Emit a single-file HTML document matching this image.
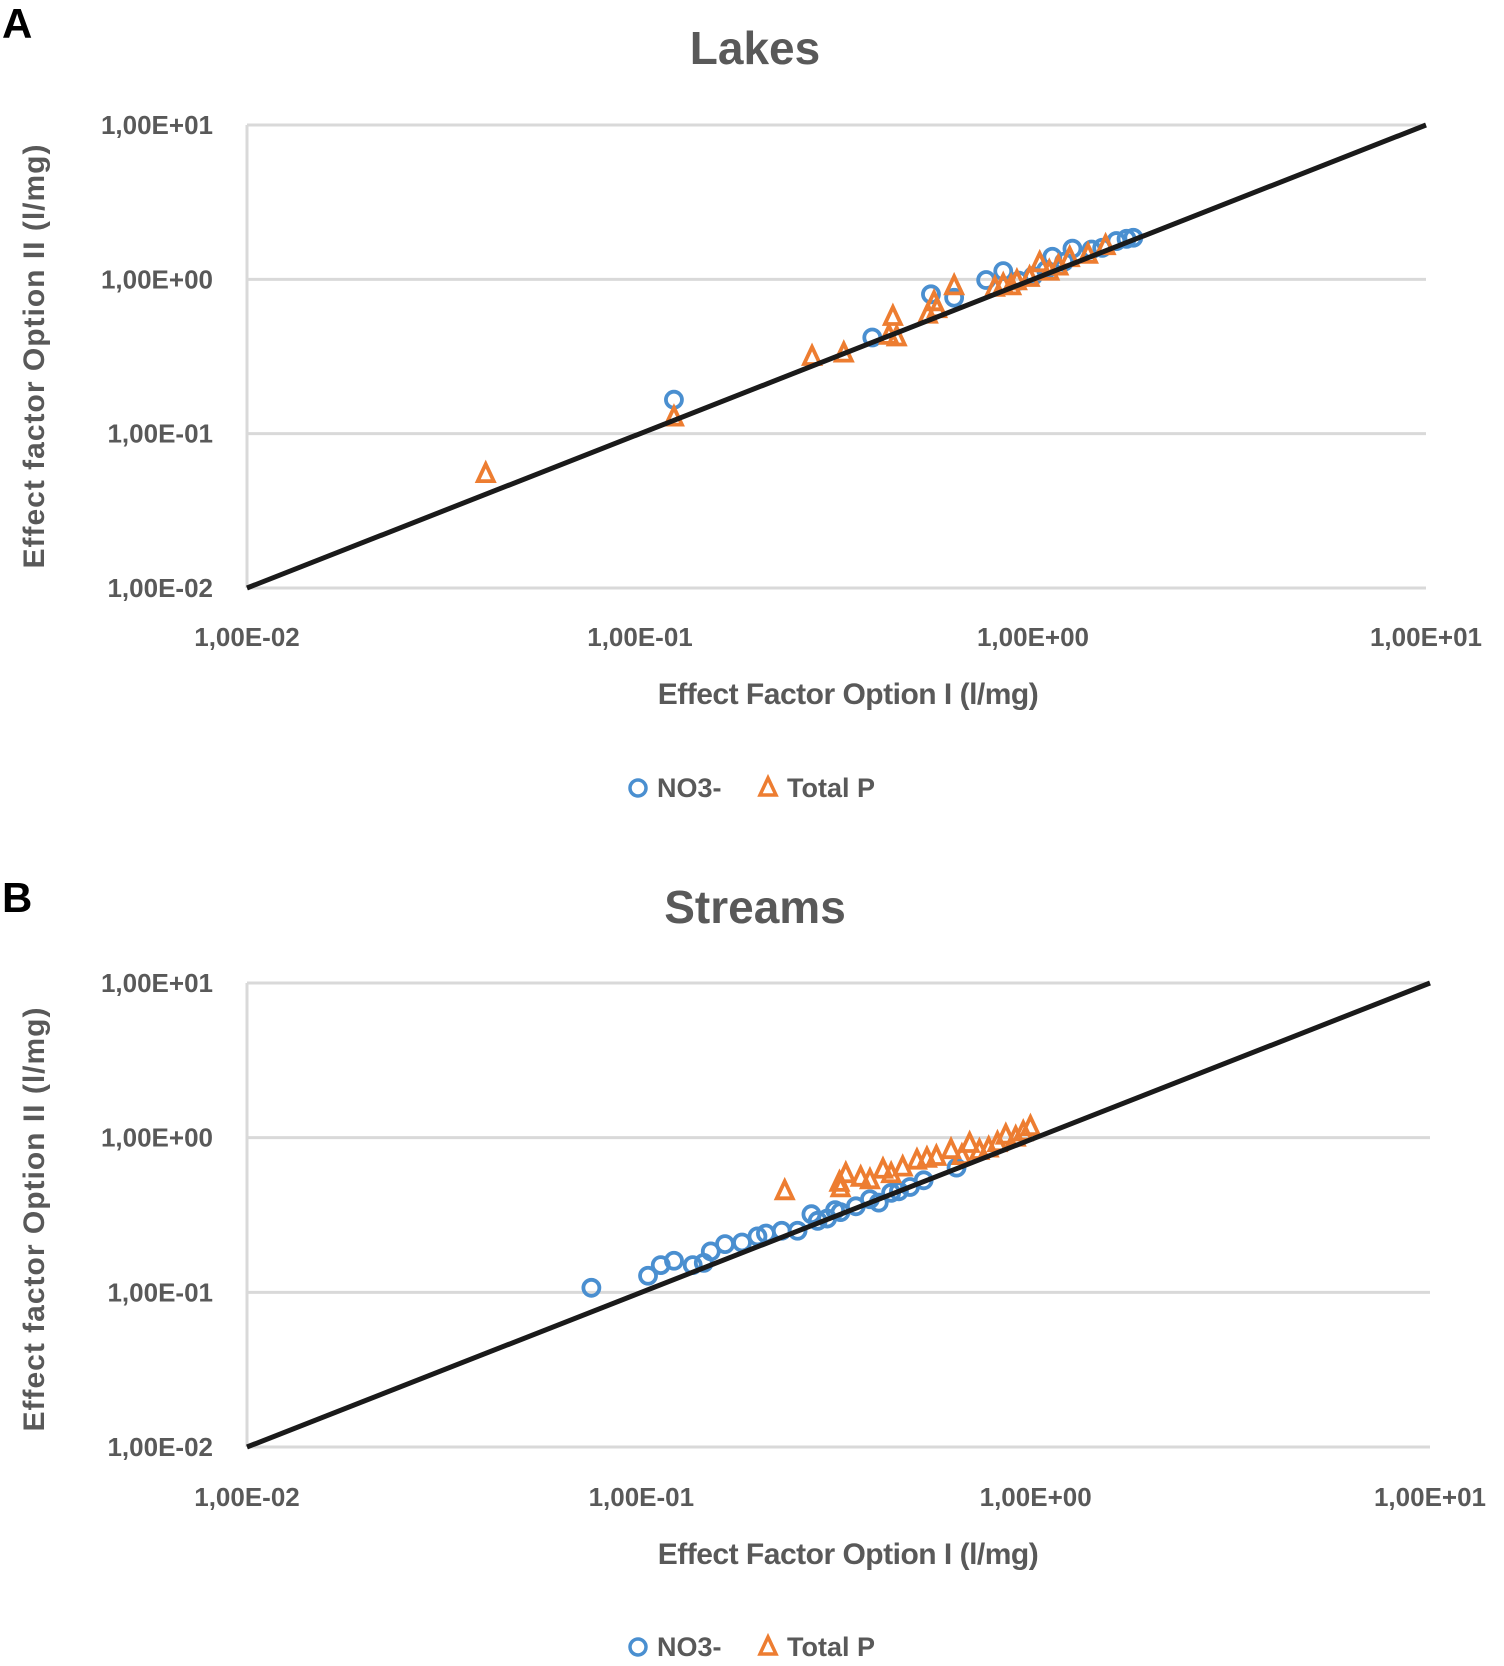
<!DOCTYPE html>
<html><head><meta charset="utf-8">
<style>
html,body{margin:0;padding:0;background:#fff;}
svg{display:block;font-family:"Liberation Sans",sans-serif;}
.tick{fill:#595959;font-size:26px;font-weight:bold;}
.axt{fill:#595959;font-size:30px;font-weight:bold;}
.ttl{fill:#595959;font-size:46px;font-weight:bold;}
.pl{fill:#000;font-size:42px;font-weight:bold;}
.leg{fill:#595959;font-size:27px;font-weight:bold;}
</style></head>
<body>
<svg id="chart" width="1504" height="1666" viewBox="0 0 1504 1666" xmlns="http://www.w3.org/2000/svg"></svg>
<script>
const ticks = [0.01, 0.1, 1, 10];
const tickLabels = ["1,00E-02", "1,00E-01", "1,00E+00", "1,00E+01"];
const lakesNO3X = [0.122,0.55,0.39,0.76,0.84,1.12,1.26,1.41,1.63,1.73,1.80,0.63,0.92,1.0,1.08,1.2,1.5];
const lakesNO3Y = [0.166,0.80,0.42,0.99,1.13,1.4,1.58,1.56,1.77,1.83,1.86,0.76,0.98,1.05,1.15,1.3,1.6];
const lakesPX = [0.0405,0.122,0.274,0.33,0.44,0.43,0.54,0.56,0.63,0.84,0.91,1.04,1.16,1.24,1.38,1.53,0.8,0.88,0.98,1.1,0.45,0.57];
const lakesPY = [0.0547,0.127,0.314,0.33,0.57,0.43,0.59,0.71,0.90,0.92,0.97,1.27,1.21,1.37,1.44,1.64,0.88,0.9,1.02,1.12,0.42,0.64];
const streamsNO3X = [0.0747,0.104,0.112,0.121,0.135,0.144,0.15,0.163,0.18,0.197,0.207,0.227,0.249,0.27,0.296,0.32,0.35,0.38,0.43,0.48,0.52,0.63,0.28,0.31,0.4,0.45];
const streamsNO3Y = [0.107,0.128,0.15,0.16,0.15,0.155,0.184,0.205,0.21,0.23,0.24,0.25,0.25,0.32,0.30,0.33,0.36,0.40,0.44,0.48,0.53,0.64,0.29,0.34,0.38,0.45];
const streamsPX = [0.231,0.318,0.33,0.38,0.41,0.46,0.50,0.56,0.61,0.68,0.76,0.84,0.89,0.97,0.32,0.53,0.36,0.43,0.65,0.72,0.8,0.93];
const streamsPY = [0.45,0.51,0.58,0.53,0.62,0.64,0.71,0.75,0.83,0.91,0.85,1.03,1.0,1.17,0.47,0.73,0.55,0.58,0.76,0.82,0.92,1.08];

const NS="http://www.w3.org/2000/svg";
const svg=document.getElementById('chart');
function mk(tag,attrs,parent){const e=document.createElementNS(NS,tag);for(const k in attrs)e.setAttribute(k,attrs[k]);(parent||svg).appendChild(e);return e;}

function panel(cfg, nx, ny, px, py){
  const g=mk('g',{});
  
  
  const sx=v=>cfg.x0+(Math.log10(v)+2)/3*(cfg.x1-cfg.x0);
  const sy=v=>cfg.y1-(Math.log10(v)+2)/3*(cfg.y1-cfg.y0);
  const lbl=mk('text',{x:2,y:cfg.letterY,class:'pl'},g);lbl.textContent=cfg.letter;
  
  
  const t=mk('text',{x:755,y:cfg.titleY,class:'ttl','text-anchor':'middle'},g);t.textContent=cfg.title;
  
  
  ticks.forEach((v,i)=>{
    const y=sy(v);
    const gl=mk('line',{x1:cfg.x0,x2:cfg.x1,y1:y,y2:y,stroke:'#d9d9d9','stroke-width':3},g);
    
    
    const yl=mk('text',{x:213,y:y+9,class:'tick','text-anchor':'end'},g);yl.textContent=tickLabels[i];
    
    
    const xl=mk('text',{x:sx(v),y:cfg.xTickY,class:'tick','text-anchor':'middle'},g);xl.textContent=tickLabels[i];
    
    
  });
  const ax=mk('line',{x1:cfg.x0,x2:cfg.x0,y1:cfg.y0,y2:cfg.y1,stroke:'#d9d9d9','stroke-width':3},g);
  
  
  const xt=mk('text',{x:848,y:cfg.xTitleY,class:'axt','text-anchor':'middle','letter-spacing':'-0.5'},g);xt.textContent='Effect Factor Option I (l/mg)';
  
  
  const yt=mk('text',{x:0,y:0,class:'axt','text-anchor':'middle','letter-spacing':'1',transform:`translate(44,${cfg.yTitleC}) rotate(-90)`},g);yt.textContent='Effect factor Option II (l/mg)';
  
  
  nx.forEach((v,i)=>{
    const c=mk('circle',{cx:sx(v),cy:sy(ny[i]),r:8,fill:'none',stroke:'#4a8fd0','stroke-width':3.8},g);
    
    
  });
  px.forEach((v,i)=>{
    const x=sx(v),y=sy(py[i]);
    const p=mk('polygon',{points:`${x},${y-10} ${x-8},${y+7} ${x+8},${y+7}`,fill:'none',stroke:'#ed7d31','stroke-width':3.8},g);
    
    
  });
  const dl=mk('line',{x1:sx(0.01),y1:sy(0.01),x2:sx(10),y2:sy(10),stroke:'#1a1a1a','stroke-width':5},g);
  
  
  const lc=mk('circle',{cx:638,cy:cfg.legY-9,r:8,fill:'none',stroke:'#4a8fd0','stroke-width':3.5},g);
  
  
  const l1=mk('text',{x:657,y:cfg.legY,class:'leg'},g);l1.textContent='NO3-';
  
  
  const ly=cfg.legY-9;
  const lt=mk('polygon',{points:`768,${ly-10} 760,${ly+7} 776,${ly+7}`,fill:'none',stroke:'#ed7d31','stroke-width':3.5},g);
  
  
  const l2=mk('text',{x:787,y:cfg.legY,class:'leg'},g);l2.textContent='Total  P';
  
  
}
panel({name:'lakes-chart',letter:'A',letterY:38,title:'Lakes',titleY:64,x0:247,x1:1426,y0:125,y1:588,xTickY:646,xTitleY:704,yTitleC:356,legY:797},lakesNO3X,lakesNO3Y,lakesPX,lakesPY);
panel({name:'streams-chart',letter:'B',letterY:912,title:'Streams',titleY:923,x0:247,x1:1430,y0:983,y1:1447,xTickY:1506,xTitleY:1564,yTitleC:1219,legY:1656},streamsNO3X,streamsNO3Y,streamsPX,streamsPY);
</script>
</body></html>
